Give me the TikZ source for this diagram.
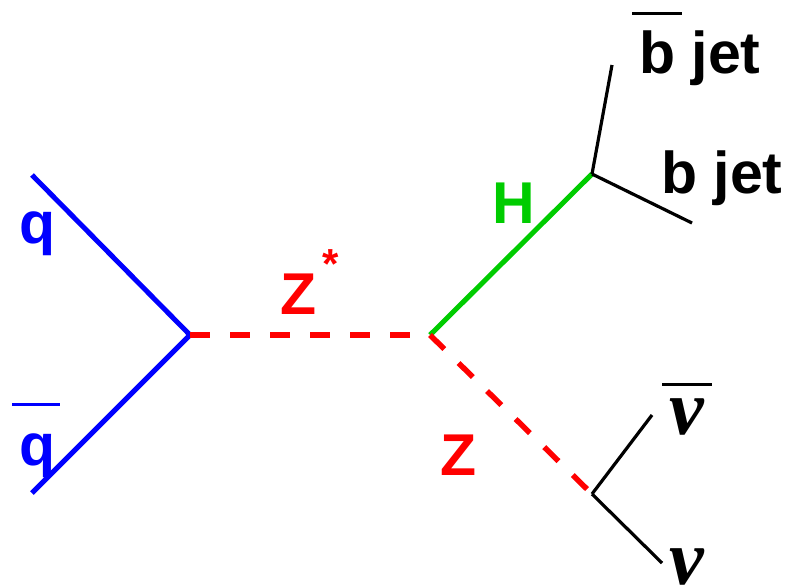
\documentclass[tikz,border=0pt]{standalone}
\usepackage{fontspec}
\setmainfont{Liberation Sans}
\newfontfamily\nufont{Liberation Serif}
\definecolor{hgreen}{RGB}{0,204,0}
\begin{document}
\begin{tikzpicture}[x=1pt,y=-1pt,
  lbl/.style={inner sep=0pt,font=\fontsize{59}{60}\selectfont\bfseries},
  nul/.style={inner sep=0pt,font=\fontsize{78}{80}\selectfont\nufont\bfseries\itshape},
  quark/.style={blue,line width=5pt},
  zline/.style={red,line width=5.5pt,dash pattern=on 20pt off 20pt},
  higgs/.style={hgreen,line width=5pt},
  jet/.style={black,line width=3.2pt},
  obar/.style={line width=3pt}]
\useasboundingbox (0,0) rectangle (791,584);
% vertices
\coordinate (qa) at (32,175);
\coordinate (qb) at (32,493);
\coordinate (v1) at (190,335);
\coordinate (v2) at (430,335);
\coordinate (vh) at (592,174);
\coordinate (vz) at (592,494);
\coordinate (bbarend) at (612,65);
\coordinate (bend) at (692,223);
\coordinate (nubarend) at (652,415);
\coordinate (nuend) at (662,563);
% lines
\draw[quark] (qa) -- (v1);
\draw[quark] (qb) -- (v1);
\draw[zline] (v1) -- (v2);
\draw[higgs] (v2) -- (vh);
\draw[zline] (v2) -- (vz);
\draw[jet] (vh) -- (bbarend);
\draw[jet] (vh) -- (bend);
\draw[jet] (vz) -- (nubarend);
\draw[jet] (vz) -- (nuend);
% labels
\node[lbl,blue,anchor=center] (q) at (38,234) {q};
\node[lbl,blue,anchor=center] (qbar) at (38,456) {q};
\draw[obar,blue] (12,404) -- (60,404);
\node[lbl,red,anchor=base west] (zstar) at (280,314) {Z\kern6pt\raisebox{36pt}{\fontsize{42}{42}\selectfont *}};
\node[lbl,hgreen,anchor=base west] (h) at (492,223) {H};
\node[lbl,red,anchor=base west] (z) at (440,475) {Z};
\node[lbl,anchor=base west] (bbar) at (639,73) {b jet};
\draw[obar] (632,13) -- (682,13);
\node[lbl,anchor=base west] (b) at (661,193) {b jet};
\node[nul,anchor=center] (nubar) at (687,417) {ν};
\draw[obar] (662,384) -- (712,384);
\node[nul,anchor=center] (nu) at (687,567) {ν};
\end{tikzpicture}
\end{document}
